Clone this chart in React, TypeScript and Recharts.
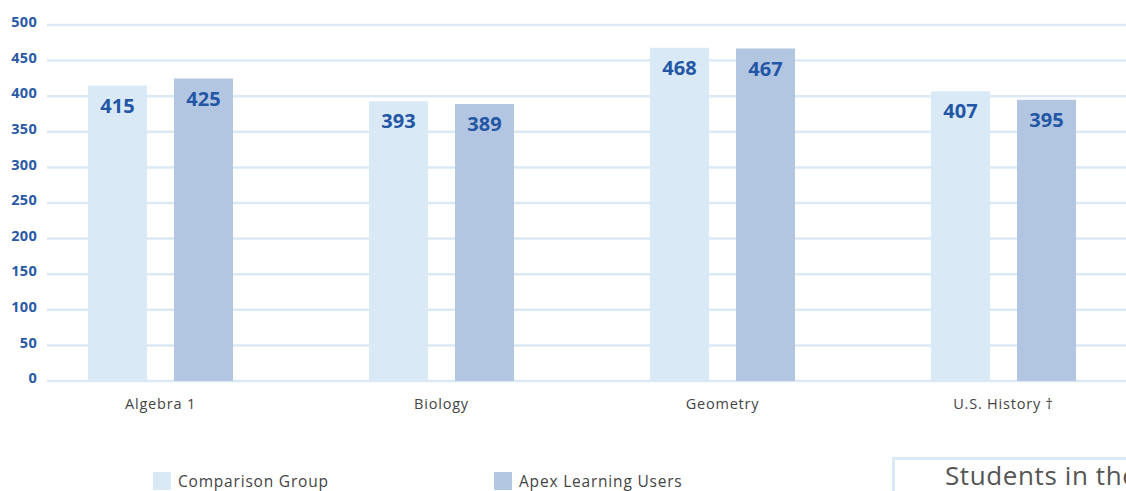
import React from 'react';
import { BarChart, Bar, XAxis, YAxis, CartesianGrid, Legend, LabelList } from 'recharts';

const subjects = ['Algebra 1', 'Biology', 'Geometry', 'U.S. History †'];
const comparisonScores = [415, 393, 468, 407];
const apexScores = [425, 389, 467, 395];
const yTicks = [0, 50, 100, 150, 200, 250, 300, 350, 400, 450, 500];

const seriesNames = ['Comparison Group', 'Apex Learning Users'];
const COLOR_COMPARISON = '#d9e9f6';
const COLOR_APEX = '#b2c6e2';
const BLUE = '#2a5aa5';
const FONT = '"Open Sans", sans-serif';

const data = subjects.map((subject, i) => ({
  subject,
  comparison: comparisonScores[i],
  apex: apexScores[i],
}));

function LegendContent() {
  const items = [
    { name: seriesNames[0], color: COLOR_COMPARISON, left: 153 },
    { name: seriesNames[1], color: COLOR_APEX, left: 494 },
  ];
  return (
    <div style={{ position: 'relative', height: 30 }}>
      {items.map((it) => (
        <div
          key={it.name}
          style={{
            position: 'absolute',
            left: it.left,
            top: 11,
            display: 'flex',
            alignItems: 'center',
            fontFamily: FONT,
            fontSize: 15.5,
            letterSpacing: 0.8,
            color: '#444',
            whiteSpace: 'nowrap',
            lineHeight: '18px',
          }}
        >
          <span style={{ width: 18, height: 18, background: it.color, marginRight: 7, display: 'inline-block' }} />
          {it.name}
        </div>
      ))}
    </div>
  );
}

export default function App() {
  return (
    <div style={{ position: 'absolute', left: 0, top: 0, width: 1126, height: 491, overflow: 'hidden', background: '#fff' }}>
      <BarChart
        width={1144}
        height={491}
        data={data}
        margin={{ top: 25, right: 0, left: 0, bottom: 0 }}
        barSize={59}
        barGap={27}
      >
        <CartesianGrid vertical={false} stroke="#dbe9f5" strokeWidth={2.5} />
        <XAxis
          dataKey="subject"
          axisLine={false}
          tickLine={false}
          tickSize={0}
          tickMargin={18}
          height={80}
          padding={{ left: -27, right: 0 }}
          interval={0}
          tick={{ fontFamily: FONT, fontSize: 14.5, fill: '#444', letterSpacing: 0.8 }}
        />
        <YAxis
          domain={[0, 500]}
          ticks={yTicks}
          axisLine={false}
          tickLine={false}
          tickSize={0}
          tickMargin={10}
          width={47}
          dy={-3}
          tick={{ fontFamily: FONT, fontSize: 14.5, fontWeight: 700, fill: BLUE, letterSpacing: 0.3 }}
        />
        <Legend verticalAlign="bottom" height={30} wrapperStyle={{ left: 0, bottom: 0, width: 1144, height: 30 }} content={<LegendContent />} />
        <Bar dataKey="comparison" name={seriesNames[0]} fill={COLOR_COMPARISON} isAnimationActive={false}>
          <LabelList dataKey="comparison" position="insideTop" offset={13} fill="#2356a4" fontFamily={FONT} fontSize={20} fontWeight={700} />
        </Bar>
        <Bar dataKey="apex" name={seriesNames[1]} fill={COLOR_APEX} isAnimationActive={false}>
          <LabelList dataKey="apex" position="insideTop" offset={13} fill="#2356a4" fontFamily={FONT} fontSize={20} fontWeight={700} />
        </Bar>
      </BarChart>
      <div
        style={{
          position: 'absolute',
          left: 892,
          top: 457,
          width: 320,
          height: 60,
          borderTop: '3px solid #dbe9f5',
          borderLeft: '3px solid #dbe9f5',
          boxSizing: 'border-box',
          paddingLeft: 50,
          fontFamily: FONT,
          fontSize: 26,
          letterSpacing: 0.6,
          color: '#555',
          whiteSpace: 'nowrap',
          lineHeight: '30px',
          paddingTop: 0,
        }}
      >
        Students in the
      </div>
    </div>
  );
}
